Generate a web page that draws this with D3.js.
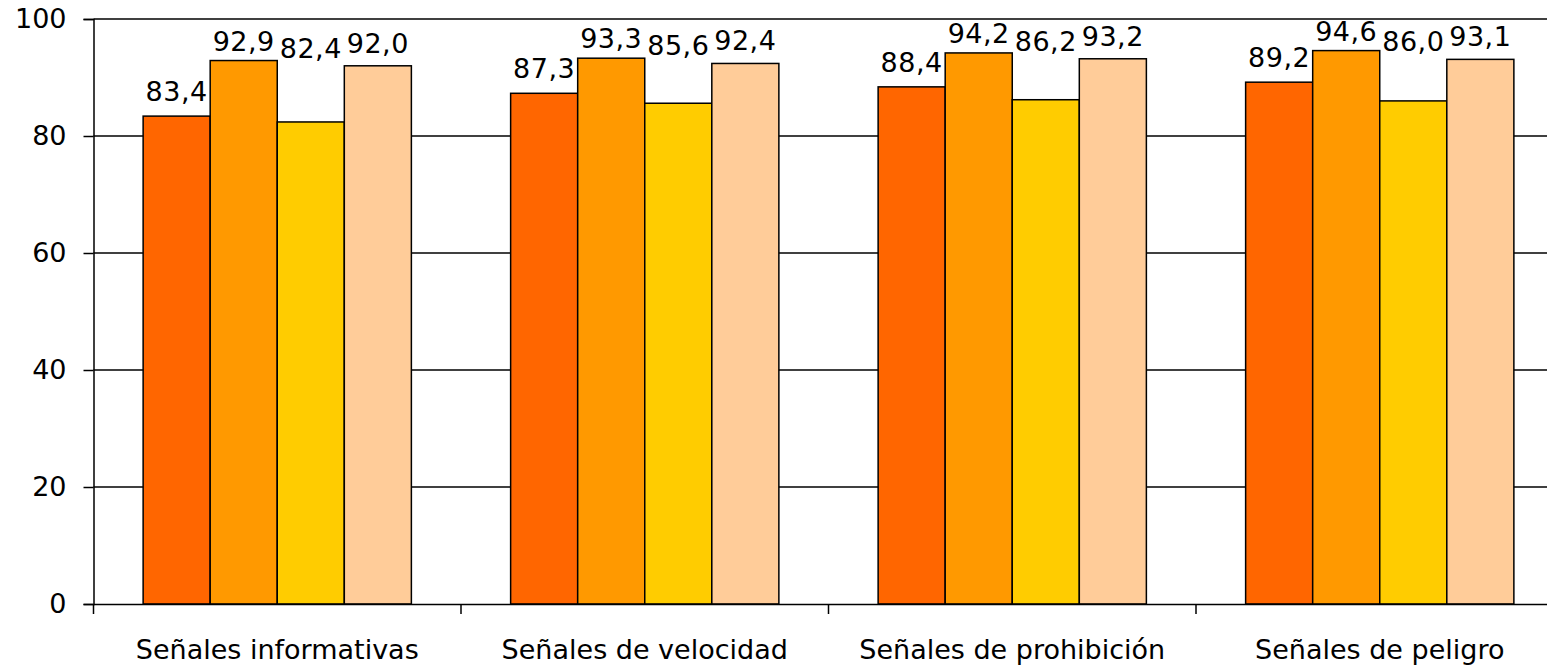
<!DOCTYPE html>
<html>
<head>
<meta charset="utf-8">
<script src="https://cdn.jsdelivr.net/npm/d3@7"></script>
<style>
  body { margin: 0; background: #fff; }
  text { font-family: "DejaVu Sans", sans-serif; fill: #000; }
</style>
</head>
<body>
<div id="chart"></div>
<script>
// data
const categories = ["Señales informativas", "Señales de velocidad", "Señales de prohibición", "Señales de peligro"];
const series = ["s1", "s2", "s3", "s4"];
const colors = ["#FF6600", "#FF9900", "#FFCC00", "#FFCC99"];
const values = [
  [83.4, 92.9, 82.4, 92.0],
  [87.3, 93.3, 85.6, 92.4],
  [88.4, 94.2, 86.2, 93.2],
  [89.2, 94.6, 86.0, 93.1]
];
const yTicks = [0, 20, 40, 60, 80, 100];

const width = 1547, height = 667;
const fontSize = "27px";

const svg = d3.select("#chart").append("svg")
  .attr("width", width)
  .attr("height", height)

const x0 = d3.scaleBand().domain(categories).range([93.5, 1563.5]).padding(0)
const x1 = d3.scaleBand().domain(series).range([0, x0.bandwidth()]).paddingInner(0).paddingOuter(0.74)
const y = d3.scaleLinear().domain([0, 100]).range([604, 19])

const fmt = v => d3.format(".1f")(v).replace(".", ",")

// gridlines
svg.append("g")
  .selectAll("line")
  .data(yTicks.filter(d => d > 0))
  .join("line")
    .attr("x1", 93.5).attr("x2", width)
    .attr("y1", d => y(d)).attr("y2", d => y(d))
    .attr("stroke", "#000").attr("stroke-width", 1.5)

// y axis
const yAxis = svg.append("g")
  .attr("transform", "translate(93.5,0)")
  .call(d3.axisLeft(y).tickValues(yTicks).tickSize(10).tickPadding(17))
yAxis.select(".domain").attr("stroke-width", 1.5)
yAxis.selectAll(".tick line").attr("stroke-width", 1.5)
yAxis.selectAll("text").style("font-size", fontSize)

// bars
const groups = svg.append("g")
  .selectAll("g")
  .data(categories)
  .join("g")
    .attr("transform", d => `translate(${x0(d)},0)`)

groups.selectAll("rect")
  .data((c, i) => values[i].map((v, j) => ({s: series[j], v, j})))
  .join("rect")
    .attr("x", d => x1(d.s))
    .attr("y", d => y(d.v))
    .attr("width", x1.bandwidth())
    .attr("height", d => y(0) - y(d.v))
    .attr("fill", d => colors[d.j])
    .attr("stroke", "#000")
    .attr("stroke-width", 1.5)

// value labels (yellow label sits up next to the peach one, like the original)
function labelY(vals, j) {
  if (j === 2) return y(vals[3]) - 13 + 5;
  if (j === 0) return y(vals[0]) - 15;
  if (j === 1) return y(vals[1]) - 10;
  return y(vals[3]) - 13;
}
groups.selectAll("text.val")
  .data((c, i) => values[i].map((v, j) => ({s: series[j], v, j, vals: values[i]})))
  .join("text")
    .attr("class", "val")
    .attr("x", d => x1(d.s) + x1.bandwidth() / 2)
    .attr("y", d => labelY(d.vals, d.j))
    .attr("text-anchor", "middle")
    .style("font-size", fontSize)
    .style("letter-spacing", "0.5px")
    .text(d => fmt(d.v))

// x axis
const xAxis = svg.append("g")
  .attr("transform", `translate(0,${y(0)})`)
  .call(d3.axisBottom(x0).tickSize(0).tickPadding(36))
xAxis.select(".domain").attr("stroke-width", 1.5)
xAxis.selectAll("text").style("font-size", fontSize)

// category separator ticks
svg.append("g")
  .selectAll("line")
  .data(categories)
  .join("line")
    .attr("x1", d => x0(d)).attr("x2", d => x0(d))
    .attr("y1", y(0)).attr("y2", y(0) + 10)
    .attr("stroke", "#000").attr("stroke-width", 1.5)
</script>
</body>
</html>
